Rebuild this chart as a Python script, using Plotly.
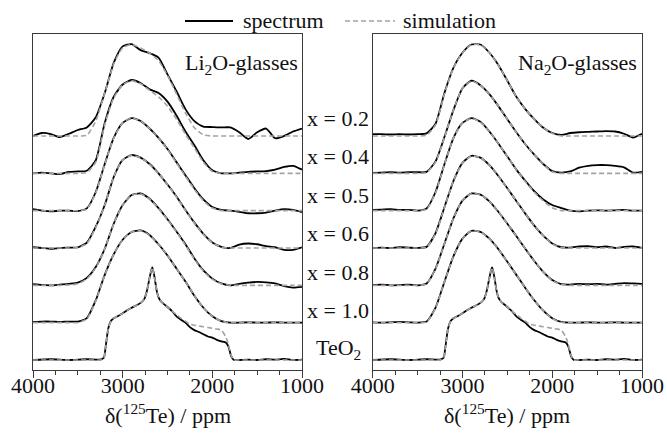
import plotly.graph_objects as go

# ---------------- data ----------------
ppm = [4000, 3900, 3800, 3700, 3600, 3500, 3400, 3300, 3200, 3100, 3000,
       2900, 2800, 2700, 2600, 2500, 2400, 2300, 2200, 2100, 2000,
       1900, 1800, 1700, 1600, 1500, 1400, 1300, 1200, 1100, 1000]

ppm_teo2 = [4000, 3800, 3600, 3400, 3250, 3210, 3190, 3160, 3130, 3100, 3050,
            3000, 2950, 2900, 2850, 2800, 2760, 2730, 2700, 2680, 2670, 2655,
            2640, 2620, 2600, 2570, 2520, 2450, 2400, 2350, 2300, 2250, 2200,
            2150, 2100, 2050, 2000, 1950, 1900, 1850, 1820, 1790, 1760, 1700,
            1600, 1500, 1400, 1300, 1200, 1100, 1000]

teo2_spec = [0.00, 0.02, 0.00, 0.02, 0.01, 0.06, 0.35, 0.85, 1.05, 1.12, 1.18,
             1.25, 1.33, 1.40, 1.46, 1.53, 1.63, 1.85, 2.20, 2.42, 2.48, 2.35,
             2.15, 1.85, 1.68, 1.56, 1.46, 1.31, 1.17, 1.08, 1.00, 0.88, 0.80,
             0.75, 0.69, 0.63, 0.60, 0.54, 0.50, 0.47, 0.36, 0.10, 0.00, 0.00,
             0.01, 0.00, 0.02, 0.01, 0.03, 0.00, 0.01]
teo2_sim = [0.00, 0.00, 0.00, 0.00, 0.00, 0.05, 0.33, 0.84, 1.05, 1.12, 1.18,
            1.25, 1.33, 1.40, 1.46, 1.53, 1.63, 1.85, 2.20, 2.42, 2.48, 2.35,
            2.15, 1.85, 1.68, 1.56, 1.46, 1.31, 1.22, 1.12, 1.04, 0.96, 0.93,
            0.91, 0.89, 0.87, 0.85, 0.83, 0.80, 0.62, 0.40, 0.12, 0.00, 0.00,
            0.00, 0.00, 0.00, 0.00, 0.00, 0.00, 0.00]

# Li2O glasses
li_02_spec = [0.00, 0.08, 0.05, -0.03, 0.06, 0.16, 0.23, 0.50, 1.15, 1.96, 2.40, 2.46, 2.30, 2.22, 2.10, 1.65,
              1.20, 0.72, 0.40, 0.25, 0.24, 0.23, 0.23, 0.10, -0.08, 0.10, 0.20, -0.06, 0.00, 0.12, 0.20]
li_02_sim = [0, 0, 0, 0, 0, 0, 0.02, 0.40, 1.15, 1.93, 2.36, 2.45, 2.36, 2.22, 2.02, 1.62,
             1.13, 0.62, 0.22, 0.03, 0, 0, 0, 0, 0, 0, 0, 0, 0, 0, 0]
li_04_spec = [0.00, 0.02, 0.00, -0.02, 0.04, 0.05, 0.07, 0.35, 1.35, 2.05, 2.38, 2.50, 2.42, 2.25, 2.15, 1.92,
              1.55, 1.12, 0.75, 0.35, 0.08, 0.00, 0.00, 0.02, 0.04, 0.05, 0.06, 0.10, 0.17, 0.20, 0.10]
li_04_sim = [0, 0, 0, 0, 0, 0, 0.02, 0.30, 1.30, 2.02, 2.37, 2.48, 2.40, 2.22, 2.05, 1.80,
             1.45, 1.05, 0.68, 0.30, 0.05, 0, 0, 0, 0, 0, 0, 0, 0, 0, 0]
li_05_spec = [0.04, 0.00, -0.02, 0.00, 0.00, -0.01, 0.06, 0.50, 1.25, 1.95, 2.35, 2.48, 2.40, 2.20, 1.95, 1.65,
              1.30, 0.95, 0.60, 0.30, 0.10, 0.02, 0.00, -0.03, -0.07, -0.07, -0.05, 0.00, 0.04, 0.02, -0.04]
li_05_sim = [0, 0, 0, 0, 0, 0, 0.04, 0.48, 1.24, 1.94, 2.35, 2.48, 2.40, 2.20, 1.95, 1.64,
             1.28, 0.92, 0.57, 0.27, 0.07, 0, 0, 0, 0, 0, 0, 0, 0, 0, 0]
li_06_spec = [0.02, 0.00, -0.02, 0.00, 0.01, 0.02, 0.14, 0.57, 1.15, 1.90, 2.36, 2.49, 2.42, 2.25, 2.00, 1.70,
              1.38, 1.02, 0.68, 0.38, 0.15, 0.03, 0.00, 0.09, 0.12, 0.10, 0.05, 0.02, -0.05, -0.05, 0.02]
li_06_sim = [0, 0, 0, 0, 0, 0.01, 0.12, 0.55, 1.15, 1.90, 2.36, 2.48, 2.42, 2.24, 2.00, 1.70,
             1.37, 1.01, 0.67, 0.37, 0.14, 0.02, 0, 0, 0, 0, 0, 0, 0, 0, 0]
li_08_spec = [0.03, 0.01, 0.00, 0.02, 0.04, 0.07, 0.20, 0.49, 0.98, 1.65, 2.15, 2.42, 2.46, 2.32, 2.07, 1.77,
              1.44, 1.10, 0.72, 0.40, 0.18, 0.05, 0.00, 0.04, 0.07, 0.09, 0.08, 0.05, -0.02, -0.06, -0.04]
li_08_sim = [0, 0, 0, 0, 0.01, 0.04, 0.17, 0.47, 0.98, 1.65, 2.15, 2.42, 2.45, 2.31, 2.06, 1.76,
             1.43, 1.08, 0.70, 0.38, 0.16, 0.04, 0, 0, 0, 0, 0, 0, 0, 0, 0]
li_10_spec = [0.02, 0.03, 0.03, 0.02, 0.03, 0.03, 0.12, 0.60, 1.28, 1.83, 2.22, 2.43, 2.47, 2.35, 2.10, 1.80,
              1.45, 1.10, 0.72, 0.40, 0.17, 0.04, 0.00, 0.00, 0.01, 0.00, 0.00, 0.01, 0.00, 0.00, 0.00]
li_10_sim = [0, 0, 0, 0, 0, 0, 0.10, 0.58, 1.27, 1.83, 2.22, 2.43, 2.46, 2.34, 2.10, 1.80,
             1.45, 1.10, 0.72, 0.40, 0.17, 0.04, 0, 0, 0, 0, 0, 0, 0, 0, 0]

# Na2O glasses
na_02_spec = [0.05, 0.05, 0.04, 0.05, 0.04, 0.05, 0.07, 0.33, 1.16, 1.83, 2.23, 2.45, 2.45, 2.23, 1.90, 1.48,
              1.05, 0.72, 0.45, 0.22, 0.08, 0.03, 0.08, 0.10, 0.11, 0.12, 0.13, 0.12, 0.06, -0.04, 0.06]
na_02_sim = [0, 0, 0, 0, 0, 0, 0.02, 0.30, 1.14, 1.83, 2.23, 2.45, 2.44, 2.23, 1.90, 1.48,
             1.05, 0.72, 0.45, 0.22, 0.07, 0, 0, 0, 0, 0, 0, 0, 0, 0, 0]
na_04_spec = [0.01, 0.02, 0.03, 0.02, 0.03, 0.03, 0.04, 0.32, 0.98, 1.70, 2.28, 2.48, 2.36, 2.12, 1.80, 1.45,
              1.10, 0.78, 0.50, 0.25, 0.06, 0.02, 0.05, 0.15, 0.20, 0.22, 0.22, 0.20, 0.16, 0.02, 0.04]
na_04_sim = [0, 0, 0, 0, 0, 0, 0.02, 0.30, 0.97, 1.70, 2.28, 2.47, 2.36, 2.12, 1.80, 1.45,
             1.10, 0.78, 0.50, 0.25, 0.04, 0, 0, 0, 0, 0, 0, 0, 0, 0, 0]
na_05_spec = [0.02, 0.03, 0.04, 0.02, 0.02, 0.00, 0.06, 0.50, 1.25, 1.95, 2.35, 2.48, 2.38, 2.12, 1.80, 1.45,
              1.10, 0.80, 0.52, 0.30, 0.15, 0.07, 0.00, -0.02, 0.00, 0.01, 0.00, 0.01, 0.02, 0.00, 0.00]
na_05_sim = [0, 0, 0, 0, 0, 0, 0.04, 0.48, 1.24, 1.95, 2.35, 2.47, 2.37, 2.12, 1.80, 1.45,
             1.10, 0.78, 0.50, 0.26, 0.08, 0, 0, 0, 0, 0, 0, 0, 0, 0, 0]
na_06_spec = [0.00, 0.01, 0.00, 0.02, 0.01, 0.00, 0.03, 0.40, 1.10, 1.80, 2.28, 2.47, 2.42, 2.22, 1.93, 1.60,
              1.26, 0.92, 0.60, 0.33, 0.12, 0.02, 0.01, 0.04, 0.05, 0.02, 0.04, 0.00, 0.03, 0.04, 0.00]
na_06_sim = [0, 0, 0, 0, 0, 0, 0.02, 0.38, 1.09, 1.80, 2.28, 2.46, 2.42, 2.22, 1.93, 1.60,
             1.26, 0.92, 0.60, 0.33, 0.11, 0.01, 0, 0, 0, 0, 0, 0, 0, 0, 0]
na_08_spec = [0.01, 0.02, 0.00, 0.01, 0.02, 0.00, 0.05, 0.45, 1.12, 1.80, 2.27, 2.46, 2.43, 2.25, 1.97, 1.65,
              1.32, 0.98, 0.65, 0.36, 0.14, 0.03, 0.02, 0.04, 0.03, 0.04, 0.02, 0.04, 0.06, 0.05, 0.04]
na_08_sim = [0, 0, 0, 0, 0, 0, 0.04, 0.44, 1.12, 1.80, 2.27, 2.46, 2.43, 2.25, 1.97, 1.65,
             1.32, 0.98, 0.65, 0.36, 0.13, 0.02, 0, 0, 0, 0, 0, 0, 0, 0, 0]
na_10_spec = [0.01, 0.00, 0.01, 0.02, 0.01, 0.00, 0.03, 0.40, 1.10, 1.78, 2.25, 2.46, 2.43, 2.25, 1.97, 1.63,
              1.28, 0.93, 0.60, 0.32, 0.12, 0.02, 0.00, 0.00, 0.01, 0.00, 0.00, 0.01, 0.00, 0.00, 0.00]
na_10_sim = [0, 0, 0, 0, 0, 0, 0.02, 0.39, 1.10, 1.78, 2.25, 2.46, 2.43, 2.25, 1.97, 1.63,
             1.28, 0.93, 0.60, 0.32, 0.11, 0.01, 0, 0, 0, 0, 0, 0, 0, 0, 0]

sample_labels = ["x = 0.2", "x = 0.4", "x = 0.5", "x = 0.6", "x = 0.8", "x = 1.0", "TeO<sub>2</sub>"]
panel_titles = ["Li<sub>2</sub>O-glasses", "Na<sub>2</sub>O-glasses"]
x_ticks = [4000, 3000, 2000, 1000]
legend_names = ["spectrum", "simulation"]
x_title = "δ(<sup>125</sup>Te) / ppm"

# top-to-bottom order of the stacked curves
li_stack = [(ppm, li_02_spec, li_02_sim), (ppm, li_04_spec, li_04_sim), (ppm, li_05_spec, li_05_sim),
            (ppm, li_06_spec, li_06_sim), (ppm, li_08_spec, li_08_sim), (ppm, li_10_spec, li_10_sim),
            (ppm_teo2, teo2_spec, teo2_sim)]
na_stack = [(ppm, na_02_spec, na_02_sim), (ppm, na_04_spec, na_04_sim), (ppm, na_05_spec, na_05_sim),
            (ppm, na_06_spec, na_06_sim), (ppm, na_08_spec, na_08_sim), (ppm, na_10_spec, na_10_sim),
            (ppm_teo2, teo2_spec, teo2_sim)]

# ---------------- layout geometry ----------------
W, H = 667, 436
ML, MR, MT, MB = 33, 25, 34, 66
PW = W - ML - MR
PH = H - MT - MB
FONT = "Liberation Serif"
SPEC_COLOR = "#000000"
SIM_COLOR = "#a3a3a3"
FRAME = "#3a3a3a"
TXT = "#111111"


def px_x(x):
    return (x - ML) / PW


def px_y(y):
    return (H - MB - y) / PH


fig = go.Figure()
n = len(li_stack)
for axis_id, stack in (("", li_stack), ("2", na_stack)):
    for i, (xs, spec, sim) in enumerate(stack):
        off = n - 1 - i
        fig.add_trace(go.Scatter(x=xs, y=[v + off for v in spec], mode="lines",
                                 line=dict(color=SPEC_COLOR, width=1.8, shape="spline", smoothing=0.6),
                                 xaxis="x" + axis_id, yaxis="y" + axis_id, showlegend=False,
                                 hoverinfo="skip"))
    for i, (xs, spec, sim) in enumerate(stack):
        off = n - 1 - i
        fig.add_trace(go.Scatter(x=xs, y=[v + off for v in sim], mode="lines",
                                 line=dict(color=SIM_COLOR, width=1.6, dash="5px,3px",
                                           shape="spline", smoothing=0.6),
                                 xaxis="x" + axis_id, yaxis="y" + axis_id, showlegend=False,
                                 hoverinfo="skip"))

yr = [-0.268, 8.732]
axis_common = dict(range=[4000, 1000], tickvals=x_ticks, ticks="outside", ticklen=7, tickwidth=1,
                   tickcolor=FRAME, showline=True, linecolor=FRAME, linewidth=1, mirror=True,
                   showgrid=False, zeroline=False, ticklabelstandoff=-11,
                   tickfont=dict(family=FONT, size=22, color=TXT),
                   minor=dict(ticks="outside", dtick=250, tick0=1000, ticklen=4, tickcolor=FRAME,
                              showgrid=False))
yaxis_common = dict(range=yr, showticklabels=False, ticks="", showline=True, linecolor=FRAME,
                    linewidth=1, mirror=True, showgrid=False, zeroline=False)

fig.update_layout(
    width=W, height=H, margin=dict(l=ML, r=MR, t=MT, b=MB, autoexpand=False),
    paper_bgcolor="white", plot_bgcolor="white",
    font=dict(family=FONT, size=22, color=TXT),
    xaxis=dict(domain=[0, px_x(302)], anchor="y", automargin=False, **axis_common),
    xaxis2=dict(domain=[px_x(372.7), 1], anchor="y2", automargin=False, **axis_common),
    yaxis=dict(domain=[0, 1], anchor="x", **yaxis_common),
    yaxis2=dict(domain=[0, 1], anchor="x2", **yaxis_common),
    showlegend=False,
)

ann = []
# sample labels between the panels
for i, lab in enumerate(sample_labels):
    ann.append(dict(text=lab, xref="paper", yref="paper", x=px_x(338), y=px_y(118 + 38.5 * i),
                    xanchor="center", yanchor="middle", showarrow=False,
                    font=dict(family=FONT, size=22, color=TXT)))
# panel titles
for xr, t in zip((300, 639), panel_titles):
    ann.append(dict(text=t, xref="paper", yref="paper", x=px_x(xr), y=px_y(64),
                    xanchor="right", yanchor="middle", showarrow=False,
                    font=dict(family=FONT, size=22, color=TXT)))
# x-axis titles
for xc in ((33 + 302) / 2, (372.7 + 642) / 2):
    ann.append(dict(text=x_title, xref="paper", yref="paper", x=px_x(xc), y=px_y(414),
                    xanchor="center", yanchor="middle", showarrow=False,
                    font=dict(family=FONT, size=22, color=TXT)))
# legend entries
ann.append(dict(text=legend_names[0], xref="paper", yref="paper", x=px_x(241), y=px_y(21),
                xanchor="left", yanchor="middle", showarrow=False,
                font=dict(family=FONT, size=22, color=TXT)))
ann.append(dict(text=legend_names[1], xref="paper", yref="paper", x=px_x(401), y=px_y(21),
                xanchor="left", yanchor="middle", showarrow=False,
                font=dict(family=FONT, size=22, color=TXT)))
fig.update_layout(annotations=ann)

fig.add_shape(type="line", xref="paper", yref="paper", x0=px_x(185), x1=px_x(233), y0=px_y(21), y1=px_y(21),
              line=dict(color=SPEC_COLOR, width=2))
fig.add_shape(type="line", xref="paper", yref="paper", x0=px_x(345), x1=px_x(395), y0=px_y(21), y1=px_y(21),
              line=dict(color=SIM_COLOR, width=1.6, dash="5px,3px"))

fig.write_html("out.html", config={"displayModeBar": False},
               post_script="document.body.style.margin='0';document.body.style.padding='0';")
